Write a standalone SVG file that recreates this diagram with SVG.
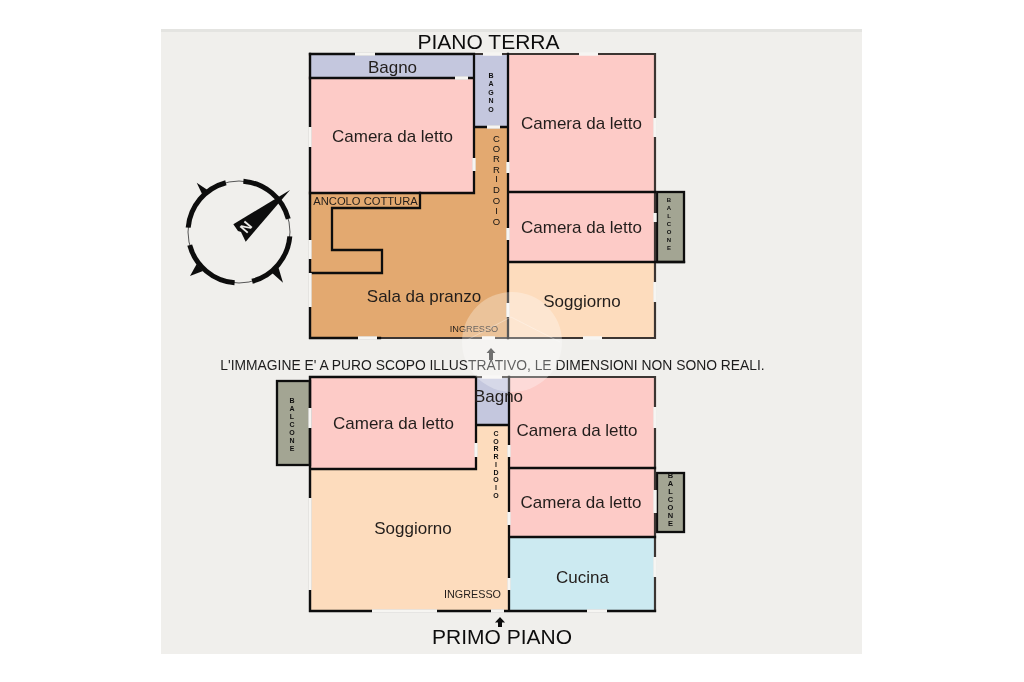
<svg xmlns="http://www.w3.org/2000/svg" width="1024" height="682" viewBox="0 0 1024 682">
<defs>
<style>
text{font-family:"Liberation Sans",Arial,sans-serif;fill:#231f1c;text-anchor:middle}
.r{font-size:17px}
.t{font-size:21px;fill:#111}
.pink{fill:#fdcbc7}.lav{fill:#c4c7de}.ora{fill:#e3a96f}.pea{fill:#fddcbd}.cya{fill:#cceaf1}.bal{fill:#a3a593}
.w{fill:none;stroke:#111;stroke-width:2.3;stroke-linecap:square;stroke-linejoin:miter}
.o{fill:none;stroke:#3a3633;stroke-width:2.2;stroke-linecap:square}
.g{fill:none;stroke:#f6f5f2;stroke-width:3.4}
.bl{fill:#a3a593;stroke:#111;stroke-width:2.3}
.v{font-size:7px;fill:#111;font-weight:bold}
</style>
<filter id="soft" filterUnits="userSpaceOnUse" x="0" y="0" width="1024" height="682"><feGaussianBlur stdDeviation="0.45"/></filter>
</defs>
<rect width="1024" height="682" fill="#fff"/>
<rect x="161" y="29" width="701" height="625" fill="#f0efec"/>
<rect x="161" y="29" width="701" height="3" fill="#e4e4e1"/>
<g id="disegno" filter="url(#soft)">
<g id="compass">
<circle cx="239" cy="232" r="51" fill="none" stroke="#555" stroke-width="1"/>
<circle cx="239" cy="232" r="51" fill="none" stroke="#111" stroke-width="5" pathLength="360" stroke-dasharray="70 20" stroke-dashoffset="-5"/>
<path fill="#111" d="M196.7 182.7L203 196L209 191ZM190 276L196.7 264L203 271ZM283 282.7L271 272L278 266Z"/>
<path fill="#111" d="M290 190L233.3 224.3L238 231L241 232L245.7 241.7Z"/>
<text x="246" y="232" transform="rotate(-50 246 227)" style="font-size:14px;fill:#f0efec;font-weight:bold">N</text>
</g>

<g id="piano-terra">
<text id="titolo-terra" class="t" x="488.500" y="49">PIANO TERRA</text>
<g id="t-bagno1"><rect class="lav" x="310" y="54" width="164" height="24"/><text class="r" x="392.500" y="73">Bagno</text></g>
<g id="t-camera1"><rect class="pink" x="310" y="78" width="164" height="115"/><text class="r" x="392.500" y="142">Camera da letto</text></g>
<g id="t-sala"><path class="ora" d="M310 193H474V127H508V338H310Z"/><text class="r" x="424" y="302">Sala da pranzo</text>
<text style="font-size:9.200px" x="474" y="332">INGRESSO</text>
<text style="font-size:11.200px" x="365.500" y="205">ANCOLO COTTURA</text>
<text class="v" style="font-size:9.500px;font-weight:normal" x="496.500 496.500 496.500 496.500 496.500 496.500 496.500 496.500 496.500" y="141.500 151.500 161.500 172.500 181.500 192.500 203.500 213.500 224.500">CORRIDOIO</text></g>
<g id="t-bagno2"><rect class="lav" x="474" y="54" width="34" height="73"/><text class="v" x="491 491 491 491 491" y="77.500 86 94.500 103 111.500">BAGNO</text></g>
<g id="t-camera2"><rect class="pink" x="508" y="54" width="147" height="138"/><text class="r" x="581.500" y="129">Camera da letto</text></g>
<g id="t-camera3"><rect class="pink" x="508" y="192" width="147" height="70"/><text class="r" x="581.500" y="233">Camera da letto</text></g>
<g id="t-soggiorno"><rect class="pea" x="508" y="262" width="147" height="76"/><text class="r" x="582" y="307">Soggiorno</text></g>
<g id="t-balcone"><rect class="bl" x="657" y="192" width="27" height="70"/><text class="v" style="font-size:6px" x="669 669 669 669 669 669 669" y="202 210 218 226 234 242 250">BALCONE</text></g>
<g id="t-muri">
<path class="o" d="M310 54H655V338H310Z"/>
<path class="w" d="M310 54H474M310 78H474V193H310M474 54V127H508M508 54V338M508 192H655M508 262H684"/>
<path class="w" d="M420 193V208H332V250H382V273H310M310 54V338M310 338H380"/>
<path class="g" d="M355 54H375M483 54H502M579 54H598M455 78H468M487 127H500M310 127V147M474 158V171M508 162V173M655 118V137M310 240V259M310 273V307M508 228V240M508 303V317M655 213V222M655 282V302M358 338H377M482 338H495M583 338H602"/>
</g>
<path id="t-freccia" fill="#333" d="M491 348L495.500 353H493V360H489V353H486.500Z"/>
</g>

<text id="avviso" x="492.500" y="370" style="font-size:13.850px;fill:#1c1c1c">L'IMMAGINE E' A PURO SCOPO ILLUSTRATIVO, LE DIMENSIONI NON SONO REALI.</text>

<g id="primo-piano">
<g id="p-camera1"><rect class="pink" x="310" y="377" width="166" height="92"/><text class="r" x="393.500" y="429">Camera da letto</text></g>
<g id="p-soggiorno"><path class="pea" d="M310 469H476V425H509V611H310Z"/><text class="r" x="413" y="534">Soggiorno</text>
<text style="font-size:10.800px" x="472.500" y="598">INGRESSO</text>
<text class="v" x="496 496 496 496 496 496 496 496 496" y="435.500 443.500 451 459 467 474.500 482 490 497.500">CORRIDOIO</text></g>
<g id="p-bagno"><rect class="lav" x="476" y="377" width="33" height="48"/></g>
<g id="p-camera2"><rect class="pink" x="509" y="377" width="146" height="91"/><text class="r" x="577" y="436">Camera da letto</text></g>
<g id="p-camera3"><rect class="pink" x="509" y="468" width="146" height="69"/><text class="r" x="581" y="508">Camera da letto</text></g>
<g id="p-cucina"><rect class="cya" x="509" y="537" width="146" height="74"/><text class="r" x="582.500" y="583">Cucina</text></g>
<g id="p-balcone1"><rect class="bl" x="277" y="381" width="33" height="84"/><text class="v" x="292 292 292 292 292 292 292" y="402.500 410.500 418.500 426.500 434.500 442.500 450.500">BALCONE</text></g>
<g id="p-balcone2"><rect class="bl" x="657" y="473" width="27" height="59"/><text class="v" style="font-size:7.500px" x="670.500 670.500 670.500 670.500 670.500 670.500 670.500" y="478 486 494 502 510 518 526">BALCONE</text></g>
<g id="p-muri">
<path class="o" d="M310 377H655V611H310Z"/>
<path class="w" d="M310 377V611H509M310 377H476V469H310M476 425H509M509 377V611H655M509 468H655M509 537H655"/>
<path class="g" d="M482 377H502M310 408V428M310 498V590M476 443V457M509 445V457M509 512V525M509 578V590M655 407V428M655 490V513M655 557V577M372 611H437M491 611H504M587 611H607"/>
</g>
<text id="p-bagno-label" class="r" x="498.500" y="402">Bagno</text>
<path id="p-freccia" fill="#111" d="M500 617L505 622.500H502V627H498V622.500H495Z"/>
<text id="titolo-primo" class="t" x="502" y="644">PRIMO PIANO</text>
</g>

<g id="filigrana">
<circle cx="512" cy="342" r="50" fill="#fff" opacity=".3"/>
<path d="M467 340L511 317L560 342" fill="none" stroke="#fff" stroke-width="1" opacity=".3"/>
</g>
</g>
</svg>
